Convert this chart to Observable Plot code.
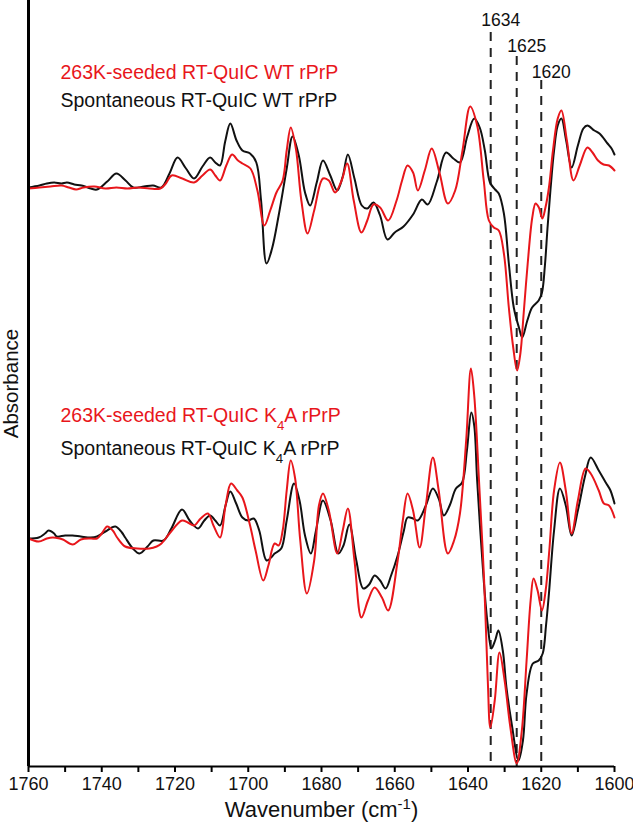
<!DOCTYPE html>
<html>
<head>
<meta charset="utf-8">
<script src="https://cdn.jsdelivr.net/npm/d3@7"></script>
<script src="https://cdn.jsdelivr.net/npm/@observablehq/plot@0.6"></script>
<style>
  html, body { margin: 0; padding: 0; background: #fff; }
</style>
</head>
<body>
<div id="chart"></div>
<script>
// Wavenumber (cm-1), arbitrary absorbance (2nd-derivative, offset) pairs
const wtSeeded = [
  [1760,5.78],[1757,5.79],[1754,5.80],[1751,5.81],[1749,5.79],[1747,5.77],[1745,5.79],[1742,5.80],
  [1739,5.78],[1736,5.79],[1733,5.78],[1730,5.79],[1727,5.78],[1724,5.78],[1722.5,5.83],[1720.9,5.91],
  [1718,5.88],[1714.8,5.84],[1712.5,5.91],[1710.4,5.97],[1709,5.91],[1707.7,5.86],[1706,6.01],[1704.4,6.12],
  [1702.8,6.06],[1701.6,6.03],[1699.4,5.98],[1697.5,5.76],[1695.6,5.41],[1694,5.56],[1692.3,5.74],[1690.6,5.86],
  [1689.5,6.16],[1688.4,6.39],[1687,6.18],[1685.5,5.66],[1683.8,5.33],[1682,5.56],[1679.6,5.88],[1678,5.86],
  [1676.3,5.74],[1674.5,5.86],[1673,6.03],[1671.2,5.66],[1669.1,5.34],[1667.5,5.46],[1665.8,5.62],[1664,5.59],
  [1661.8,5.46],[1659.5,5.66],[1658,5.86],[1656.5,6.01],[1655,5.94],[1653.7,5.76],[1651.8,5.96],[1649.9,6.18],
  [1647.8,5.94],[1645.5,5.63],[1643.5,5.76],[1641.5,6.16],[1639.4,6.60],[1637.5,6.41],[1635.7,5.86],[1634.3,5.46],
  [1632.95,5.39],[1631.6,5.36],[1630.2,5.13],[1628.85,4.59],[1627.65,4.19],[1626.6,3.96],[1625.7,4.13],[1624.8,4.53],
  [1623.7,5.03],[1622.45,5.49],[1621.55,5.63],[1620.65,5.59],[1619.7,5.48],[1618.85,5.59],[1617.9,5.79],[1616.8,6.16],
  [1615.5,6.48],[1614.5,6.56],[1613,6.26],[1611.2,5.86],[1609.5,6.01],[1607.4,6.19],[1606,6.14],[1604.5,6.06],
  [1603,6.02],[1601.5,6.01],[1600,5.96]
];
const wtSpont = [
  [1760,5.79],[1757,5.81],[1755,5.83],[1753,5.84],[1751,5.83],[1749.5,5.84],[1747.5,5.82],[1745.5,5.81],
  [1743,5.78],[1741.3,5.77],[1738.5,5.85],[1736,5.93],[1733.5,5.86],[1731.4,5.79],[1728.5,5.80],[1726,5.81],
  [1723.7,5.79],[1721.5,5.93],[1719.3,6.09],[1717,5.98],[1714.8,5.88],[1712.5,6.00],[1710.4,6.09],[1709,6.04],
  [1707.7,6.01],[1706.3,6.25],[1704.9,6.43],[1703.2,6.26],[1701.6,6.16],[1699.5,6.13],[1697.8,6.04],[1696.5,5.66],
  [1695,5.03],[1693.5,5.18],[1691.7,5.51],[1689.5,5.98],[1687.9,6.30],[1686.2,6.11],[1684.5,5.74],[1683.1,5.61],
  [1681.3,5.84],[1679.6,6.06],[1677.6,5.91],[1675.7,5.76],[1674.2,5.90],[1672.8,6.12],[1671,5.88],[1669,5.61],
  [1667.5,5.58],[1665.8,5.64],[1664,5.51],[1662,5.27],[1660,5.34],[1657.6,5.40],[1655,5.52],[1652.6,5.67],
  [1651,5.62],[1648.5,5.85],[1646,6.14],[1644,6.08],[1642.2,6.04],[1640.2,6.30],[1638.3,6.48],[1636.8,6.39],
  [1635.4,6.16],[1634,5.84],[1632.6,5.77],[1631.6,5.73],[1630.2,5.53],[1628.85,5.03],[1627.5,4.59],[1626.1,4.39],
  [1625.2,4.29],[1623.8,4.46],[1622.5,4.59],[1620.7,4.66],[1619.8,4.74],[1619,5.01],[1618.3,5.38],[1617.5,5.76],
  [1616.5,6.16],[1615.5,6.41],[1614.5,6.48],[1613.2,6.26],[1611.7,5.99],[1610,6.21],[1608.5,6.38],[1607.4,6.41],
  [1605.5,6.36],[1604.1,6.33],[1601.9,6.23],[1600.8,6.18],[1600,6.12]
];
const k4aSeeded = [
  [1760,2.28],[1757.2,2.25],[1755,2.28],[1753.4,2.29],[1751.5,2.28],[1750.6,2.27],[1747.9,2.22],[1745.7,2.27],
  [1743,2.28],[1741.3,2.28],[1740,2.33],[1738.5,2.40],[1737,2.36],[1735.8,2.29],[1733.6,2.20],[1730.3,2.18],
  [1727,2.18],[1725,2.20],[1723.7,2.23],[1721.5,2.33],[1718.1,2.46],[1716.5,2.44],[1714.8,2.41],[1713,2.48],
  [1711,2.53],[1709.5,2.41],[1707.7,2.29],[1706.2,2.61],[1704.7,2.83],[1703,2.76],[1701.6,2.69],[1699.5,2.41],
  [1698,2.16],[1695.9,1.86],[1694.5,2.01],[1692.8,2.23],[1691.7,2.21],[1690.6,2.36],[1689.5,2.76],[1688.4,3.06],
  [1687.2,2.88],[1685.8,2.26],[1684,1.73],[1682,2.06],[1680.7,2.61],[1679.6,2.73],[1678,2.56],[1675.7,2.13],
  [1674.2,2.36],[1672.8,2.58],[1671,2.06],[1669.1,1.49],[1667.3,1.66],[1665.5,1.79],[1663.5,1.69],[1661.8,1.56],
  [1659.2,2.06],[1657.8,2.46],[1656.5,2.73],[1655,2.56],[1653.2,2.19],[1651.5,2.61],[1649.6,3.09],[1648,2.76],
  [1645.5,2.13],[1643.8,2.26],[1642.2,2.53],[1640.5,3.26],[1639.2,3.98],[1638.3,3.71],[1637,2.86],[1635.6,1.86],
  [1634.6,0.86],[1633.9,0.39],[1632.7,0.66],[1631.4,1.14],[1630,0.86],[1628.5,0.41],[1626.7,0.03],[1625.3,0.36],
  [1624,1.06],[1622.9,1.66],[1622.1,1.88],[1621,1.76],[1619.8,1.56],[1618.8,1.76],[1617.8,2.16],[1616.5,2.76],
  [1614.9,3.04],[1613.3,2.76],[1611.7,2.33],[1610,2.66],[1607.9,2.98],[1606.5,2.93],[1604.3,2.76],[1602.9,2.63],
  [1601.5,2.61],[1600,2.49]
];
const k4aSpont = [
  [1760,2.28],[1757.2,2.29],[1755.5,2.33],[1754.5,2.36],[1753,2.33],[1752.3,2.30],[1750,2.31],[1748,2.31],
  [1745.7,2.30],[1743,2.29],[1741.3,2.30],[1739,2.35],[1736.3,2.40],[1734.5,2.34],[1733.6,2.29],[1731.5,2.18],
  [1729.7,2.13],[1727.5,2.20],[1725.9,2.26],[1723.1,2.26],[1721,2.38],[1718.1,2.57],[1716,2.46],[1713.7,2.38],
  [1712,2.46],[1710.4,2.51],[1709,2.46],[1707.7,2.41],[1706.2,2.61],[1704.9,2.75],[1703.3,2.63],[1701.6,2.49],
  [1700,2.46],[1698.5,2.48],[1697,2.36],[1695,2.06],[1693.5,2.10],[1692.8,2.13],[1691,2.18],[1689.5,2.46],
  [1687.5,2.83],[1686,2.66],[1684.5,2.31],[1682.9,2.13],[1681.5,2.36],[1679.6,2.66],[1677.5,2.46],[1675.4,2.13],
  [1674,2.21],[1672.4,2.42],[1670.5,2.06],[1668.6,1.78],[1667,1.82],[1665.5,1.91],[1664,1.86],[1662.5,1.78],
  [1661,1.91],[1659.2,2.11],[1657.5,2.36],[1656.5,2.49],[1655,2.48],[1653.7,2.46],[1651.5,2.61],[1649.6,2.78],
  [1648,2.68],[1646.6,2.51],[1645,2.61],[1643.3,2.78],[1641.6,2.84],[1640.3,3.16],[1639.1,3.54],[1638.3,3.41],
  [1637.5,2.86],[1635.7,1.86],[1634.6,1.41],[1633.6,1.18],[1632.6,1.26],[1631.7,1.36],[1630.5,1.16],[1629.5,0.79],
  [1628,0.41],[1626.2,0.06],[1625,0.26],[1624,0.73],[1622.3,1.03],[1620.7,1.06],[1619.6,1.13],[1618.7,1.41],
  [1617.9,1.73],[1616.5,2.36],[1614.9,2.78],[1613.3,2.61],[1611.7,2.31],[1610,2.56],[1608,2.91],[1606.5,3.09],
  [1604.3,2.96],[1602.4,2.84],[1601.1,2.76],[1600,2.63]
];

const markerWn = [1633.8, 1626.7, 1620];
const markerLabels = ["1634", "1625", "1620"];
const xTicks = [1600,1610,1620,1630,1640,1650,1660,1670,1680,1690,1700,1710,1720,1730,1740,1750,1760];
const legendTexts = [
  "263K-seeded RT-QuIC WT rPrP",
  "Spontaneous RT-QuIC WT rPrP",
  "263K-seeded RT-QuIC K_{4}A rPrP",
  "Spontaneous RT-QuIC K_{4}A rPrP"
];
const xTitle = "Wavenumber (cm^{-1})";
const yTitle = "Absorbance";

const RED = "#e8161b";
const BLACK = "#111111";
const legendColors = [RED, BLACK, RED, BLACK];
const legendBaselines = [78, 106, 421, 454];

const lineOpts = {x: d => d[0], y: d => d[1], curve: "catmull-rom", strokeWidth: 2};

const marks = [
  // dashed markers
  ...markerWn.map((w, i) => Plot.ruleX([w], {stroke: "#222", strokeWidth: 2, strokeDasharray: "9,7", insetTop: 32 + 24 * i})),
  ...markerWn.map((w, i) => Plot.text([markerLabels[i]], {x: () => w, text: d => d, frameAnchor: "top", lineAnchor: "bottom", dy: 25 + 26 * i, dx: 10, fontSize: 17.5, fill: "#111"})),
  Plot.line(wtSpont, {...lineOpts, stroke: BLACK}),
  Plot.line(wtSeeded, {...lineOpts, stroke: RED}),
  Plot.line(k4aSpont, {...lineOpts, stroke: BLACK}),
  Plot.line(k4aSeeded, {...lineOpts, stroke: RED}),
  // axes
  Plot.ruleX([1760], {stroke: "#000", strokeWidth: 3}),
  Plot.ruleY([0], {stroke: "#000", strokeWidth: 2}),
  Plot.axisX(xTicks, {tickSize: 6, tickPadding: 5, fontSize: 18, stroke: "#000", strokeWidth: 2, fill: "#111",
    tickFormat: d => d % 20 === 0 ? String(d) : "", label: null}),
  Plot.text([xTitle], {frameAnchor: "bottom", lineAnchor: "bottom", dy: 50, fontSize: 22, fill: "#111"}),
  Plot.text([yTitle], {frameAnchor: "left", textAnchor: "middle", rotate: -90, dx: -17, fontSize: 20.5, fill: "#111"}),
  // legends
  ...legendTexts.map((t, i) => Plot.text([t], {frameAnchor: "top-left", textAnchor: "start", lineAnchor: "bottom",
    dx: 32, dy: legendBaselines[i], fontSize: 19.5, fill: legendColors[i]}))
];

const svg = Plot.plot({
  width: 633,
  height: 828,
  marginTop: 0,
  marginLeft: 28,
  marginRight: 19,
  marginBottom: 62,
  style: {fontFamily: "'Liberation Sans', Arial, Helvetica, sans-serif", background: "#fff", overflow: "visible"},
  x: {domain: [1760, 1600]},
  y: {domain: [0, 7.66], axis: null},
  marks
});

// render sub/superscripts as tspans
d3.select(svg).selectAll("text").each(function () {
  const s = this.textContent;
  const re = /([_^])\{([^}]*)\}/g;
  if (!/([_^])\{([^}]*)\}/.test(s)) return;
  const sel = d3.select(this);
  sel.text(null);
  let last = 0, m;
  while ((m = re.exec(s))) {
    if (m.index > last) sel.append("tspan").text(s.slice(last, m.index));
    sel.append("tspan").attr("baseline-shift", m[1] === "_" ? "sub" : "super").attr("font-size", "68%").text(m[2]);
    last = re.lastIndex;
  }
  if (last < s.length) sel.append("tspan").text(s.slice(last));
});

document.getElementById("chart").appendChild(svg);
</script>
</body>
</html>
